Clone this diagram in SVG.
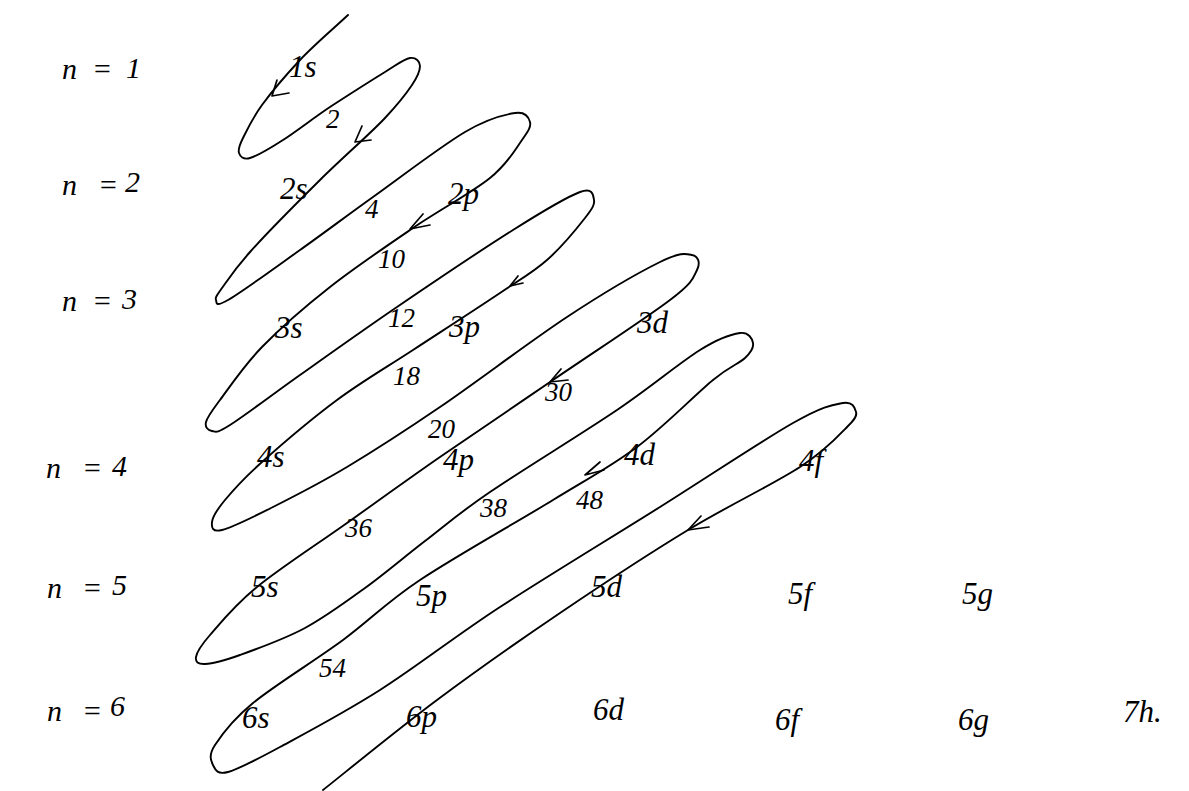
<svg xmlns="http://www.w3.org/2000/svg" width="1189" height="791" viewBox="0 0 1189 791">
<style>
.ln{fill:none;stroke:#000;stroke-width:1.9;stroke-linejoin:round;stroke-linecap:round}
.ar{fill:none;stroke:#000;stroke-width:1.7;stroke-linejoin:round;stroke-linecap:round}
text{font-family:"Liberation Serif","DejaVu Serif",serif;font-style:italic;fill:#000}
.orb{font-size:31px}
.num{font-size:27px}
.lab{font-size:30px}
</style>
<rect width="1189" height="791" fill="#fff"/>
<g id="connectors">
<path class="ln" d="M348,15 C332,30 314,45 300,60 S271.5,92 262,105 S247,130 243,138 S238,150 239,153 S243,160 250,158 S269,149 283,140 S316,116 333,105 S372,80 385,72 S404,59 410,58 S420,61.5 420,66 S418,76 412,85 S400,102 385,118 S342.5,157.7 320,180 S266,234 250,252 S227.7,280 222,288 S215,298 216,300 S214,308 228,300 S275.8,267.2 300,250 S345.5,216.7 373,197 S441.3,146 465,132 S504,114.7 515,113 S528.8,117.5 530,122 S528.7,130.7 522,140 S508.2,163.3 490,178 S439.7,209.8 413,228 S355.2,267.2 330,287 S280.3,328.2 262,347 S229.3,387.5 220,400 S207.3,416.8 206,422 S208,430.5 212,431 S215.3,434.3 230,425 S272.2,394.7 300,375 S361.5,331.2 397,307 S482.5,249.2 513,230 S566.5,197 580,192 S593.2,195.7 594,200 S592.8,208 585,218 S561.2,247.5 547,260 S522.3,278 500,293 S440.2,332.2 413,350 S362.2,381.3 337,400 S280.7,445.3 262,462 S233.3,490 225,500 S212.5,517 212,522 S211.8,532.5 222,530 S252.2,517.5 273,507 S319.2,483.7 347,467 S403.3,432 440,407 S530.3,341.2 567,317 S639.2,272.3 660,262 S685.8,253.7 692,255 S700.7,262.5 697,270 S694,281.7 670,300 S591.3,353.8 553,380 S474.3,433.2 440,457 S377.5,501.3 347,523 S279.8,568.3 257,587 S220.2,623.3 210,635 S196.8,652.2 196,657 S197.7,664.3 205,664 S223.3,661 240,655 S284.2,639.2 305,628 S345,602.5 365,588 S404.2,557 425,541 S458,513.8 490,492 S582,433.7 617,410 S679.5,362.8 700,350 S731.2,334.2 740,333 S752.2,338.8 753,343 S751.7,351.8 745,358 S731,365.2 713,380 S663.7,427 637,447 S589.2,477.8 553,500 S455,556.7 420,580 S370.8,619.5 343,640 S274.3,685.5 253,703 S221.7,734.7 215,745 S210.8,760.5 213,765 S216.8,775 228,772 S254.7,760.7 280,747 S343.3,713.3 380,690 S453.3,637.5 500,607 S611.2,537.7 660,507 S762.5,440.3 793,423 S832.5,404.8 843,403 S854.8,408.5 856,412 S855,419 848,426 S826.7,449.7 800,467 S728,505.7 688,530 S601.8,584.7 560,613 S476.5,670.5 437,700 S342,775 323,790"/>
<path class="ar" d="M277,80 L272,96 L289,93"/>
<path class="ar" d="M362,126 L355,142 L371,140"/>
<path class="ar" d="M423,214 L410,229 L430,225"/>
<path class="ar" d="M518,276 L510,286 L523,283"/>
<path class="ar" d="M561,369 L550,382 L568,380"/>
<path class="ar" d="M600,462 L585,475 L604,470"/>
<path class="ar" d="M701,516 L688,530 L709,527"/>
</g>
<g id="n-labels" class="lab">
<text id="n1"><tspan x="62" y="79">n</tspan><tspan x="92" y="79">=</tspan><tspan x="126" y="78">1</tspan></text>
<text id="n2"><tspan x="62" y="195">n</tspan><tspan x="98" y="195">=</tspan><tspan x="125" y="192">2</tspan></text>
<text id="n3"><tspan x="62" y="311">n</tspan><tspan x="92" y="311">=</tspan><tspan x="122" y="309">3</tspan></text>
<text id="n4"><tspan x="46" y="478">n</tspan><tspan x="82" y="478">=</tspan><tspan x="112" y="476">4</tspan></text>
<text id="n5"><tspan x="47" y="598">n</tspan><tspan x="82" y="598">=</tspan><tspan x="112" y="595">5</tspan></text>
<text id="n6"><tspan x="47" y="721">n</tspan><tspan x="82" y="721">=</tspan><tspan x="110" y="716">6</tspan></text>
</g>
<g id="orbitals" class="orb">
<text x="289" y="77">1s</text>
<text x="280" y="199">2s</text>
<text x="448" y="204">2p</text>
<text x="275" y="338">3s</text>
<text x="449" y="337">3p</text>
<text x="637" y="333">3d</text>
<text x="257" y="467">4s</text>
<text x="443" y="470">4p</text>
<text x="624" y="465">4d</text>
<text x="799" y="471">4f</text>
<text x="251" y="597">5s</text>
<text x="416" y="606">5p</text>
<text x="591" y="597">5d</text>
<text x="788" y="604">5f</text>
<text x="962" y="604">5g</text>
<text x="242" y="728">6s</text>
<text x="406" y="727">6p</text>
<text x="593" y="720">6d</text>
<text x="775" y="730">6f</text>
<text x="958" y="730">6g</text>
<text x="1123" y="722">7h.</text>
</g>
<g id="counts" class="num">
<text x="326" y="128">2</text>
<text x="365" y="218">4</text>
<text x="378" y="268">10</text>
<text x="388" y="327">12</text>
<text x="393" y="385">18</text>
<text x="428" y="438">20</text>
<text x="545" y="401">30</text>
<text x="345" y="537">36</text>
<text x="480" y="517">38</text>
<text x="576" y="509">48</text>
<text x="319" y="677">54</text>
</g>
</svg>
